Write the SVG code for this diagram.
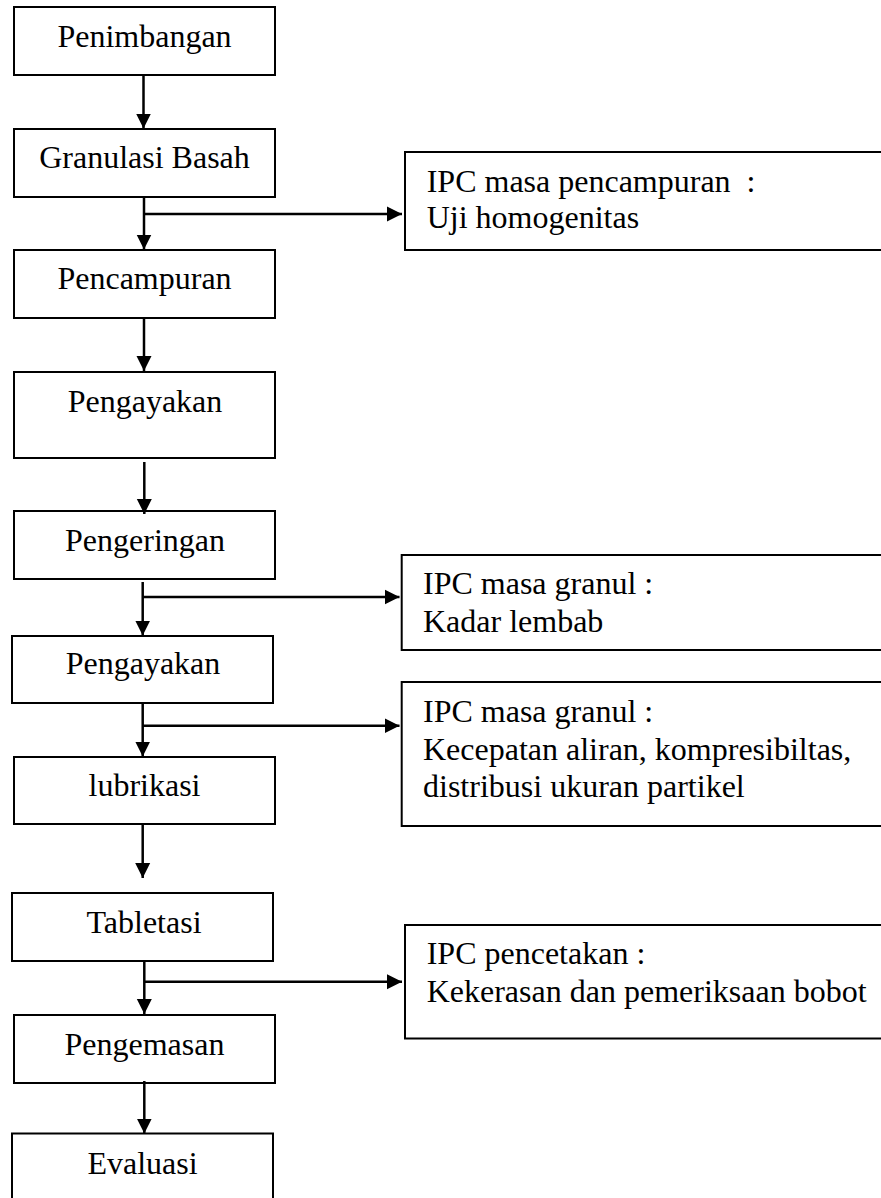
<svg xmlns="http://www.w3.org/2000/svg" width="881" height="1198" viewBox="0 0 881 1198">
<style>
.box{fill:#fff;stroke:#000;stroke-width:2}
.t{font-family:"Liberation Serif","Times New Roman",serif;font-size:32px;fill:#000}
.c{text-anchor:middle}
.ln{stroke:#000;stroke-width:2.5;fill:none}
</style>
<defs>
<marker id="ah" markerUnits="userSpaceOnUse" markerWidth="16" markerHeight="16" viewBox="0 0 16 16" refX="15" refY="8" orient="auto">
<path d="M0,0.5 L15,8 L0,15.5 Z" fill="#000"/>
</marker>
</defs>
<rect width="881" height="1198" fill="#fff"/>
<g id="n1"><rect class="box" x="14" y="7" width="261" height="68"/><text class="t c" x="144.5" y="47">Penimbangan</text></g>
<g id="n2"><rect class="box" x="14" y="129" width="261" height="68"/><text class="t c" x="144.5" y="168">Granulasi Basah</text></g>
<g id="n3"><rect class="box" x="14" y="250" width="261" height="68"/><text class="t c" x="144.5" y="289">Pencampuran</text></g>
<g id="n4"><rect class="box" x="14" y="372" width="261" height="86"/><text class="t c" x="145" y="412">Pengayakan</text></g>
<g id="n5"><rect class="box" x="14" y="511" width="261" height="68"/><text class="t c" x="145" y="551">Pengeringan</text></g>
<g id="n6"><rect class="box" x="12" y="636" width="261" height="67"/><text class="t c" x="143" y="674">Pengayakan</text></g>
<g id="n7"><rect class="box" x="14" y="757" width="261" height="67"/><text class="t c" x="144.5" y="796">lubrikasi</text></g>
<g id="n8"><rect class="box" x="12" y="893" width="261" height="68"/><text class="t c" x="144" y="933">Tabletasi</text></g>
<g id="n9"><rect class="box" x="14" y="1015" width="261" height="68"/><text class="t c" x="144.5" y="1055">Pengemasan</text></g>
<g id="n10"><rect class="box" x="12" y="1133.5" width="261" height="80"/><text class="t c" x="142.5" y="1174">Evaluasi</text></g>
<g id="ipc1"><rect class="box" x="405" y="152" width="490" height="98"/><text class="t" x="426.7" y="192">IPC masa pencampuran &#160;:</text><text class="t" x="426.7" y="228">Uji homogenitas</text></g>
<g id="ipc2"><rect class="box" x="401.7" y="555" width="490" height="95"/><text class="t" x="423" y="594">IPC masa granul :</text><text class="t" x="423" y="631.5">Kadar lembab</text></g>
<g id="ipc3"><rect class="box" x="401.7" y="682" width="490" height="144"/><text class="t" x="423" y="721.5">IPC masa granul :</text><text class="t" x="423" y="760">Kecepatan aliran, kompresibiltas,</text><text class="t" x="423" y="796.5">distribusi ukuran partikel</text></g>
<g id="ipc4"><rect class="box" x="405" y="925" width="490" height="113.5"/><text class="t" x="426.7" y="963.5">IPC pencetakan :</text><text class="t" x="426.7" y="1001.5">Kekerasan dan pemeriksaan bobot</text></g>
<g id="connectors">
<line class="ln" x1="143.5" y1="75" x2="143.5" y2="128.5" marker-end="url(#ah)"/>
<line class="ln" x1="144" y1="197" x2="144" y2="249.5" marker-end="url(#ah)"/>
<line class="ln" x1="144" y1="214" x2="402" y2="214" marker-end="url(#ah)"/>
<line class="ln" x1="144" y1="318" x2="144" y2="371" marker-end="url(#ah)"/>
<line class="ln" x1="144.3" y1="462" x2="144.3" y2="514" marker-end="url(#ah)"/>
<line class="ln" x1="142.7" y1="582" x2="142.7" y2="635.5" marker-end="url(#ah)"/>
<line class="ln" x1="142.7" y1="597" x2="399.5" y2="597" marker-end="url(#ah)"/>
<line class="ln" x1="142.7" y1="703" x2="142.7" y2="756.5" marker-end="url(#ah)"/>
<line class="ln" x1="142.7" y1="725.7" x2="399.5" y2="725.7" marker-end="url(#ah)"/>
<line class="ln" x1="142.7" y1="824" x2="142.7" y2="878" marker-end="url(#ah)"/>
<line class="ln" x1="144.3" y1="961" x2="144.3" y2="1014" marker-end="url(#ah)"/>
<line class="ln" x1="144.3" y1="981.7" x2="402" y2="981.7" marker-end="url(#ah)"/>
<line class="ln" x1="144.3" y1="1081" x2="144.3" y2="1133.5" marker-end="url(#ah)"/>
</g>
</svg>
